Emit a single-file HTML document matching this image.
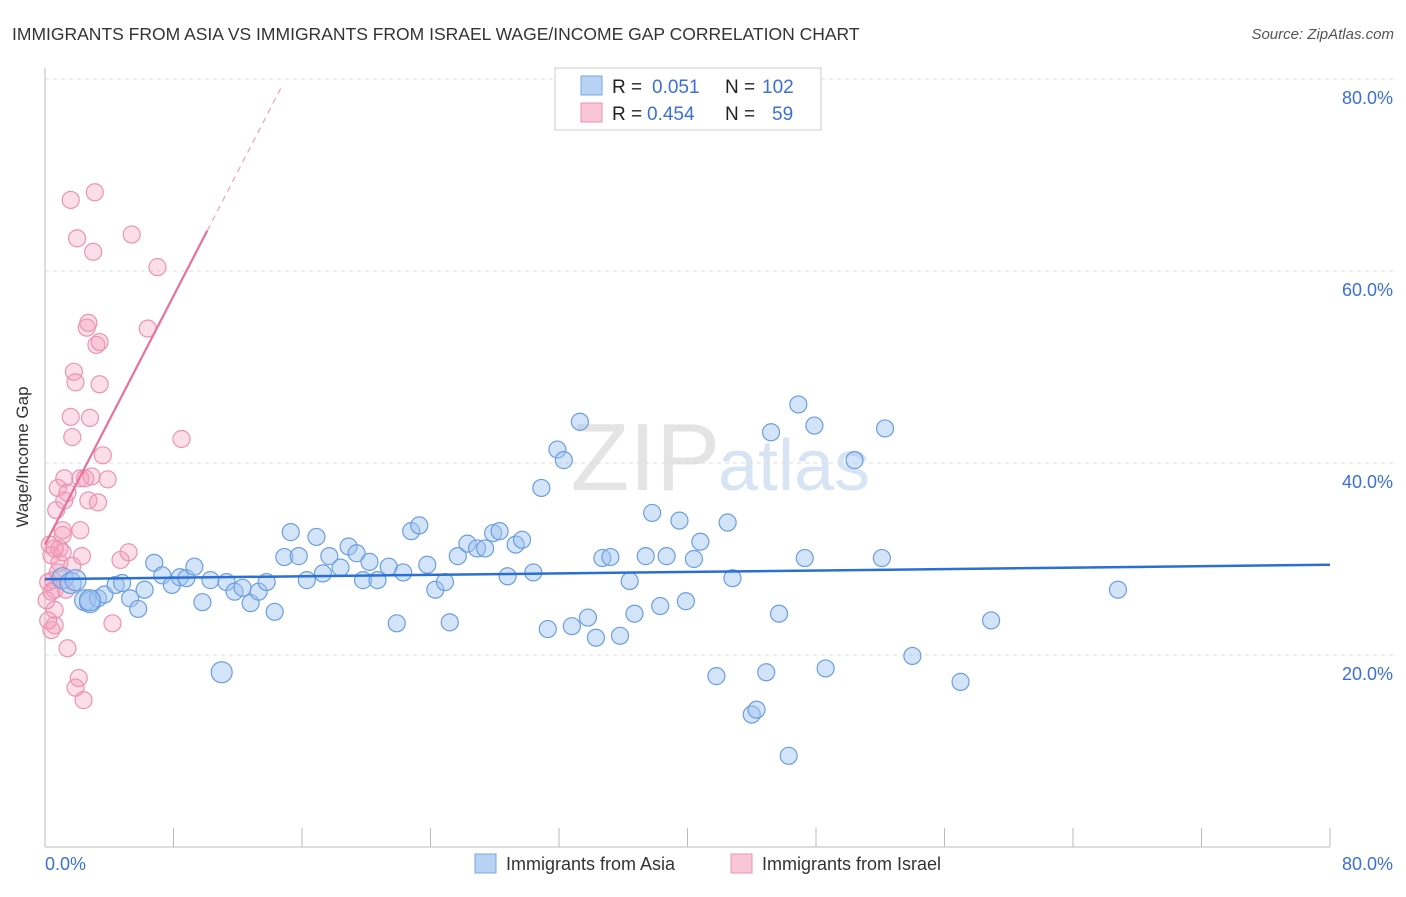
<!DOCTYPE html>
<html><head><meta charset="utf-8"><style>
body{margin:0;background:#fff;font-family:"Liberation Sans",sans-serif;}
svg text{font-family:"Liberation Sans",sans-serif;}
</style></head><body>
<svg id="chart" width="1406" height="892" xmlns="http://www.w3.org/2000/svg">
<text x="12" y="40" font-size="17.5" fill="#333">IMMIGRANTS FROM ASIA VS IMMIGRANTS FROM ISRAEL WAGE/INCOME GAP CORRELATION CHART</text>
<text x="1394" y="39" font-size="15" fill="#555" font-style="italic" text-anchor="end">Source: ZipAtlas.com</text>
<text x="720" y="490" font-size="96" fill="#e4e4e4" text-anchor="end" font-family="Liberation Serif">ZIP</text>
<text x="718" y="490" font-size="72" fill="#d6e4f4">atlas</text>
<g id="grid"></g>
<g id="pts"></g>
<g id="trend"></g>
<text x="28" y="457" font-size="17" fill="#333" text-anchor="middle" transform="rotate(-90 28 457)">Wage/Income Gap</text>
<text x="45" y="870" font-size="18" fill="#3b6fd8">0.0%</text>
<text x="1393" y="870" font-size="18" fill="#3b6fd8" text-anchor="end">80.0%</text>
<g>
<rect x="555" y="68" width="266" height="62" fill="#fff" stroke="#ccc"/>
<rect x="581" y="76" width="21" height="19" fill="#b8d2f4" stroke="#7aa6e6"/>
<rect x="581" y="103" width="21" height="19" fill="#f9c6d6" stroke="#ec93b0"/>
<text x="612" y="93" font-size="19" fill="#222">R = </text><text x="652" y="93" font-size="19" fill="#3b6fd8">0.051</text>
<text x="725" y="93" font-size="19" fill="#222">N = </text><text x="762" y="93" font-size="19" fill="#3b6fd8">102</text>
<text x="612" y="120" font-size="19" fill="#222">R = </text><text x="647" y="120" font-size="19" fill="#3b6fd8">0.454</text>
<text x="725" y="120" font-size="19" fill="#222">N = </text><text x="772" y="120" font-size="19" fill="#3b6fd8">59</text>
</g>
<g>
<rect x="475" y="854" width="21" height="19" fill="#b8d2f4" stroke="#7aa6e6"/>
<text x="506" y="870" font-size="18" fill="#333">Immigrants from Asia</text>
<rect x="731" y="854" width="21" height="19" fill="#f9c6d6" stroke="#ec93b0"/>
<text x="762" y="870" font-size="18" fill="#333">Immigrants from Israel</text>
</g>
</svg>
<script>
const yTicks=[20,40,60,80];
const yTickLabels=["20.0%","40.0%","60.0%","80.0%"];
const xTicks=[0,8,16,24,32,40,48,56,64,72,80];
const asiaX=[1.1,1.6,1.9,2.5,2.8,3.3,3.7,4.4,4.8,5.3,5.8,6.2,6.8,7.3,7.9,8.4,8.8,9.3,9.8,10.3,11.3,11.8,12.3,12.8,13.3,13.8,14.3,14.9,15.3,15.8,16.3,16.9,17.3,17.7,18.4,18.9,19.4,19.8,20.2,20.7,21.4,21.9,22.3,22.8,23.3,23.8,24.3,24.9,25.2,25.7,26.3,26.9,27.4,27.9,28.3,28.8,29.3,29.7,30.4,30.9,31.3,31.9,32.3,32.8,33.3,33.8,34.3,34.7,35.2,35.8,36.4,36.7,37.4,37.8,38.3,38.7,39.5,39.9,40.4,40.8,41.8,42.5,42.8,44.0,44.3,44.9,45.2,45.7,46.3,46.9,47.3,47.9,48.6,50.4,52.1,52.3,54.0,57.0,58.9,66.8,11.0,2.8];
const asiaY=[28.0,27.5,27.8,25.7,25.5,25.9,26.3,27.3,27.5,25.9,24.8,26.8,29.6,28.3,27.3,28.1,28.0,29.2,25.5,27.8,27.6,26.6,27.0,25.4,26.6,27.6,24.5,30.2,32.8,30.3,27.8,32.3,28.5,30.3,29.1,31.3,30.6,27.8,29.7,27.8,29.2,23.3,28.6,32.9,33.5,29.4,26.8,27.6,23.4,30.3,31.6,31.1,31.1,32.7,32.9,28.2,31.5,32.0,28.6,37.4,22.7,41.4,40.3,23.0,44.3,23.9,21.8,30.1,30.2,22.0,27.7,24.3,30.3,34.8,25.1,30.3,34.0,25.6,30.0,31.8,17.8,33.8,28.0,13.8,14.3,18.2,43.2,24.3,9.5,46.1,30.1,43.9,18.6,40.3,30.1,43.6,19.9,17.2,23.6,26.8,18.2,25.7];
const israelX=[0.3,0.4,0.5,0.6,0.6,0.4,0.6,0.7,0.8,0.9,0.9,1.1,1.1,1.2,1.2,1.4,1.4,1.6,1.6,1.7,1.7,1.8,1.9,1.9,2.0,2.1,2.2,2.2,2.3,2.4,2.5,2.6,2.7,2.7,2.8,2.9,3.0,3.1,3.2,3.3,3.4,3.4,3.6,3.9,4.2,4.7,5.2,5.4,6.4,7.0,8.5,0.2,0.1,0.2,0.4,0.6,1.1,1.3,0.8];
const israelY=[31.5,30.4,27.8,26.8,24.7,22.6,23.1,35.1,37.4,29.6,31.1,32.5,30.7,38.4,36.1,36.9,20.7,67.4,44.8,42.7,29.3,49.5,16.6,48.4,63.4,17.6,38.4,33.0,30.3,15.3,38.4,54.1,36.1,54.6,44.7,38.6,62.0,68.2,52.3,35.9,48.2,52.6,40.8,38.3,23.3,29.9,30.7,63.8,54.0,60.4,42.5,27.6,25.7,23.6,26.6,31.1,33.0,26.8,28.6];
const asiaTrend=[[0,27.9],[80,29.4]];
const israelTrend=[[0,31.5],[10.1,64.2]];
const israelTrendExt=[[10.1,64.2],[14.7,79.1]];
const NS="http://www.w3.org/2000/svg";
const sx=v=>45+v*(1285/80);
const sy=v=>847-v*9.6;
function mk(tag,attrs,parent){const e=document.createElementNS(NS,tag);for(const k in attrs)e.setAttribute(k,attrs[k]);parent.appendChild(e);return e;}
const grid=document.getElementById('grid');
yTicks.forEach((t,i)=>{
 const l=mk('line',{x1:45,x2:1394,y1:sy(t),y2:sy(t),stroke:'#ddd','stroke-dasharray':'4,4'},grid);
 
 
 const tx=mk('text',{x:1393,y:sy(t)+25,'font-size':18,fill:'#3b6fd8','text-anchor':'end'},grid);
 tx.textContent=yTickLabels[i];
 
 
});
const ax=mk('line',{x1:45,x2:45,y1:68,y2:847,stroke:'#bbb'},grid);


const bx=mk('line',{x1:45,x2:1330,y1:847,y2:847,stroke:'#bbb'},grid);


xTicks.forEach(t=>{
 const l=mk('line',{x1:sx(t),x2:sx(t),y1:828,y2:847,stroke:'#bbb'},grid);
 
 
});
const pts=document.getElementById('pts');
israelX.forEach((x,i)=>{
 const c=mk('circle',{cx:sx(x),cy:sy(israelY[i]),r:8.5,fill:'rgba(244,160,188,0.35)',stroke:'#ec93b0','stroke-width':1.2},pts);
 
 
});
asiaX.forEach((x,i)=>{
 const big=(i>=asiaX.length-2)||x<3;
 const c=mk('circle',{cx:sx(x),cy:sy(asiaY[i]),r:big?10.5:8.5,fill:'rgba(160,196,240,0.45)',stroke:'#6a9ee0','stroke-width':1.2},pts);
 
 
});
const tr=document.getElementById('trend');
const l1=mk('line',{x1:sx(asiaTrend[0][0]),y1:sy(asiaTrend[0][1]),x2:sx(asiaTrend[1][0]),y2:sy(asiaTrend[1][1]),stroke:'#2a6fd6','stroke-width':2.5},tr);


const l2=mk('line',{x1:sx(israelTrend[0][0]),y1:sy(israelTrend[0][1]),x2:sx(israelTrend[1][0]),y2:sy(israelTrend[1][1]),stroke:'#e8709a','stroke-width':2.2},tr);


const l3=mk('line',{x1:sx(israelTrendExt[0][0]),y1:sy(israelTrendExt[0][1]),x2:sx(israelTrendExt[1][0]),y2:sy(israelTrendExt[1][1]),stroke:'#f0a0bc','stroke-width':1.2,'stroke-dasharray':'6,5'},tr);


</script>
</body></html>
